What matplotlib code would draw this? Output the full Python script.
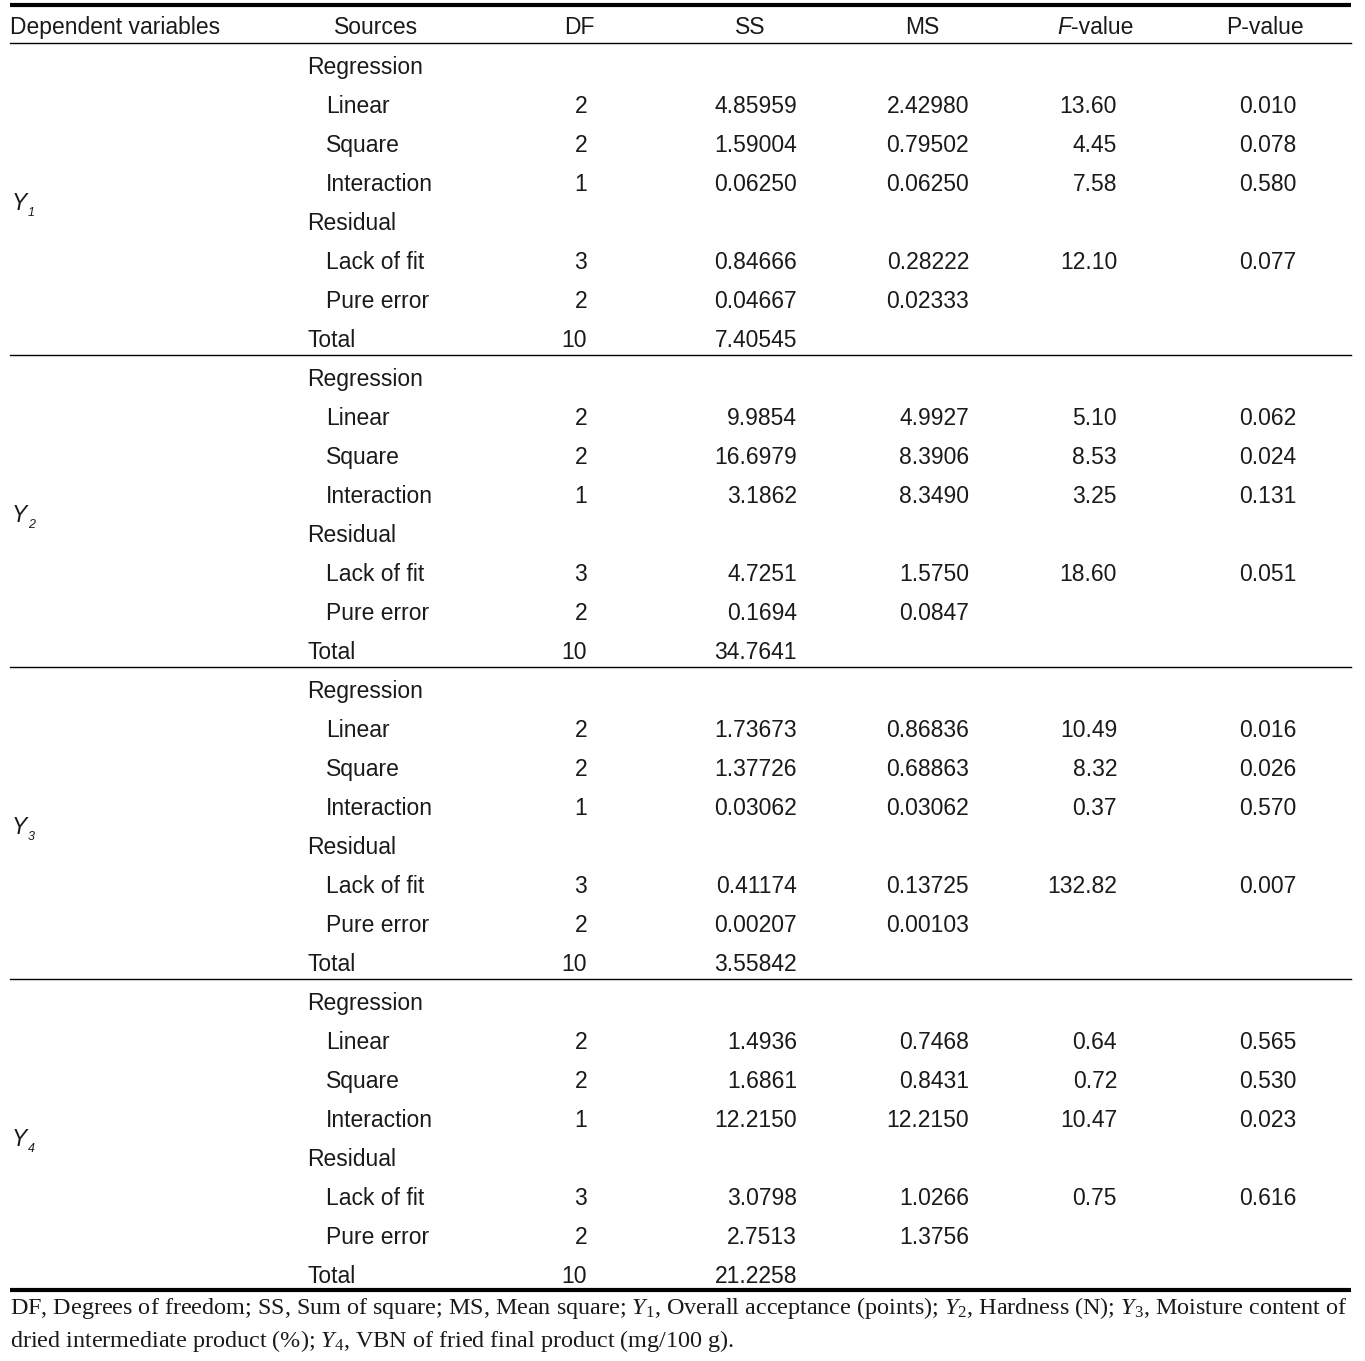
import matplotlib
matplotlib.use("Agg")
import matplotlib.pyplot as plt

# table content
headers = ["Dependent variables", "Sources", "DF", "SS", "MS", "F-value", "P-value"]
sources = ["Regression", "Linear", "Square", "Interaction", "Residual",
           "Lack of fit", "Pure error", "Total"]
indent = [0, 1, 1, 1, 0, 1, 1, 0]
df_vals = ["", "2", "2", "1", "", "3", "2", "10"]
responses = ["1", "2", "3", "4"]

ss_vals = [
    ["", "4.85959", "1.59004", "0.06250", "", "0.84666", "0.04667", "7.40545"],
    ["", "9.9854", "16.6979", "3.1862", "", "4.7251", "0.1694", "34.7641"],
    ["", "1.73673", "1.37726", "0.03062", "", "0.41174", "0.00207", "3.55842"],
    ["", "1.4936", "1.6861", "12.2150", "", "3.0798", "2.7513", "21.2258"],
]
ms_vals = [
    ["", "2.42980", "0.79502", "0.06250", "", "0.28222", "0.02333", ""],
    ["", "4.9927", "8.3906", "8.3490", "", "1.5750", "0.0847", ""],
    ["", "0.86836", "0.68863", "0.03062", "", "0.13725", "0.00103", ""],
    ["", "0.7468", "0.8431", "12.2150", "", "1.0266", "1.3756", ""],
]
f_vals = [
    ["", "13.60", "4.45", "7.58", "", "12.10", "", ""],
    ["", "5.10", "8.53", "3.25", "", "18.60", "", ""],
    ["", "10.49", "8.32", "0.37", "", "132.82", "", ""],
    ["", "0.64", "0.72", "10.47", "", "0.75", "", ""],
]
p_vals = [
    ["", "0.010", "0.078", "0.580", "", "0.077", "", ""],
    ["", "0.062", "0.024", "0.131", "", "0.051", "", ""],
    ["", "0.016", "0.026", "0.570", "", "0.007", "", ""],
    ["", "0.565", "0.530", "0.023", "", "0.616", "", ""],
]

plt.rcParams["mathtext.fontset"] = "custom"
plt.rcParams["mathtext.rm"] = "Liberation Serif"
plt.rcParams["mathtext.it"] = "Liberation Serif:italic"

W, H = 1365, 1361
fig = plt.figure(figsize=(W / 100, H / 100), dpi=100)
ax = fig.add_axes([0, 0, 1, 1])
ax.set_xlim(0, W)
ax.set_ylim(H, 0)
ax.axis("off")

sans = "Liberation Sans"
fs = 16.5
col = "#1a1a1a"
left, right = 10, 1351

# rules
ax.plot([left, right], [5, 5], color="black", lw=3.0, solid_capstyle="butt")
ax.plot([left, right], [43, 43], color="black", lw=1.0)
ax.plot([left, right], [1290, 1290], color="black", lw=3.0, solid_capstyle="butt")

# header
hy = 26 + 8
ax.text(10, hy, headers[0], fontsize=fs, family=sans, color=col, va="baseline")
ax.text(376, hy, headers[1], fontsize=fs, family=sans, color=col, va="baseline", ha="center")
ax.text(579, hy, headers[2], fontsize=fs, family=sans, color=col, va="baseline", ha="center")
ax.text(750, hy, headers[3], fontsize=fs, family=sans, color=col, va="baseline", ha="center")
ax.text(922, hy, headers[4], fontsize=fs, family=sans, color=col, va="baseline", ha="center")
ax.text(1071, hy, "F", fontsize=fs, family=sans, style="italic", color=col, va="baseline", ha="right")
ax.text(1071, hy, "-value", fontsize=fs, family=sans, color=col, va="baseline", ha="left")
ax.text(1265, hy, headers[6], fontsize=fs, family=sans, color=col, va="baseline", ha="center")

row_h = 39
block_h = 312
for b, r in enumerate(responses):
    y0 = 66 + b * block_h
    for i, s in enumerate(sources):
        y = y0 + i * row_h + 8
        ax.text(307 + 19 * indent[i], y, s, fontsize=fs, family=sans, color=col, va="baseline")
        ax.text(587, y, df_vals[i], fontsize=fs, family=sans, color=col, va="baseline", ha="right")
        ax.text(797, y, ss_vals[b][i], fontsize=fs, family=sans, color=col, va="baseline", ha="right")
        ax.text(969, y, ms_vals[b][i], fontsize=fs, family=sans, color=col, va="baseline", ha="right")
        ax.text(1117, y, f_vals[b][i], fontsize=fs, family=sans, color=col, va="baseline", ha="right")
        ax.text(1296, y, p_vals[b][i], fontsize=fs, family=sans, color=col, va="baseline", ha="right")
    # response label
    ly = y0 + 136 + 8
    ax.text(12, ly, "Y", fontsize=fs, family=sans, style="italic", color=col, va="baseline")
    ax.text(28, ly + 6, r, fontsize=9, family=sans, style="italic", color=col, va="baseline")
    if b < 3:
        ax.plot([left, right], [y0 + 289, y0 + 289], color="black", lw=1.0)

# footnote
foot1 = (r"DF, Degrees of freedom; SS, Sum of square; MS, Mean square; $\mathit{Y}_{\mathit{1}}$, "
         r"Overall acceptance (points); $\mathit{Y}_{\mathit{2}}$, Hardness (N); "
         r"$\mathit{Y}_{\mathit{3}}$, Moisture content of")
foot2 = (r"dried intermediate product (%); $\mathit{Y}_{\mathit{4}}$, "
         r"VBN of fried final product (mg/100 g).")
ax.text(10, 1314, foot1, fontsize=17.4, family="Liberation Serif", color=col, va="baseline")
ax.text(10, 1347, foot2, fontsize=17.4, family="Liberation Serif", color=col, va="baseline")

fig.savefig("out.png", dpi=100)
